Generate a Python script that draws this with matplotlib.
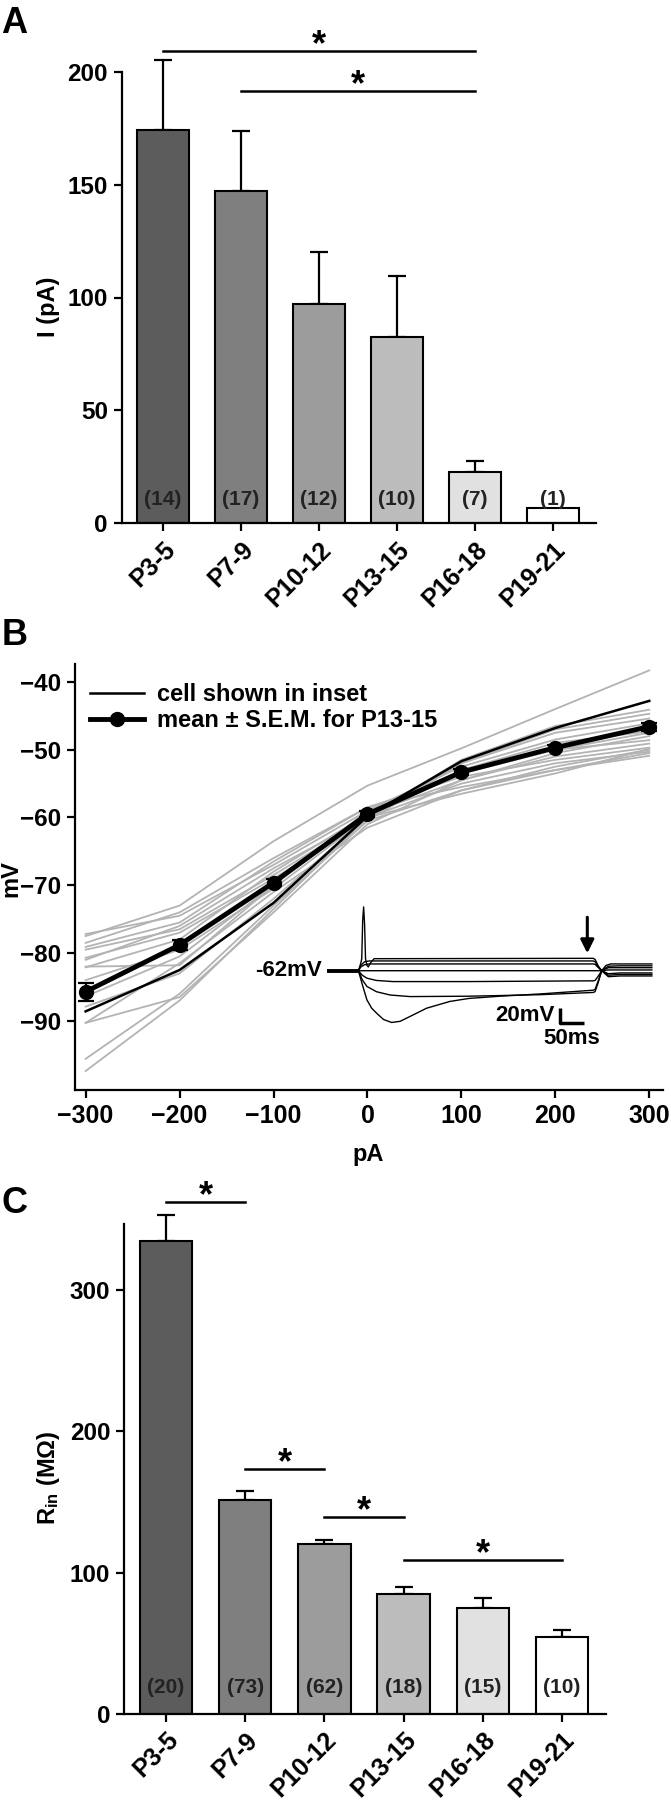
import matplotlib
matplotlib.use('Agg')
import matplotlib.pyplot as plt
from matplotlib.lines import Line2D
import numpy as np

plt.rcParams['font.family'] = ['Liberation Sans', 'DejaVu Sans']
plt.rcParams['font.weight'] = 'bold'
plt.rcParams['axes.labelweight'] = 'bold'
plt.rcParams['mathtext.fontset'] = 'custom'
plt.rcParams['mathtext.rm'] = 'Liberation Sans:bold'
plt.rcParams['mathtext.default'] = 'rm'
plt.rcParams['axes.linewidth'] = 1.6
for ax_ in ('xtick', 'ytick'):
    plt.rcParams[f'{ax_}.major.width'] = 1.6
    plt.rcParams[f'{ax_}.major.size'] = 6
    plt.rcParams[f'{ax_}.labelsize'] = 17.5
    plt.rcParams[f'{ax_}.major.pad'] = 4

# ---------------- data ----------------
ages = ['P3-5', 'P7-9', 'P10-12', 'P13-15', 'P16-18', 'P19-21']
bar_colors = ['#5c5c5c', '#7f7f7f', '#9c9c9c', '#bcbcbc', '#e1e1e1', '#ffffff']

# Panel A: current (pA)
A_mean = [174.2, 147.1, 97.1, 82.4, 22.9, 6.8]
A_sem = [31.0, 26.5, 23.2, 27.3, 4.6, 0.0]
A_n = ['(14)', '(17)', '(12)', '(10)', '(7)', '(1)']
A_sig = [(0, 4, 209.3), (1, 4, 191.5)]

# Panel B: I-V relations
B_current = [-300, -200, -100, 0, 100, 200, 300]
B_mean = [-85.7, -78.8, -69.6, -59.5, -53.3, -49.7, -46.6]
B_sem = [1.3, 0.8, 0.5, 0.4, 0.4, 0.4, 0.6]
B_cell = [-88.6, -82.5, -72.6, -59.8, -51.7, -46.8, -42.8]
B_g1 = [-77.5, -73.0, -63.5, -55.3, -49.8, -44.0, -38.3]
B_g2 = [-77.2, -74.5, -67.0, -59.0, -53.5, -50.0, -47.5]
B_g3 = [-79.1, -75.5, -66.5, -58.5, -54.0, -51.5, -49.7]
B_g4 = [-79.5, -76.5, -68.5, -60.0, -55.0, -52.0, -50.3]
B_g5 = [-80.7, -77.0, -69.0, -60.5, -56.0, -53.0, -50.9]
B_g6 = [-82.1, -78.0, -68.0, -59.5, -54.5, -51.0, -49.1]
B_g7 = [-82.0, -81.8, -70.0, -59.0, -52.5, -48.5, -46.1]
B_g8 = [-84.0, -79.5, -70.5, -60.0, -53.0, -49.0, -47.3]
B_g9 = [-86.4, -80.5, -70.0, -59.5, -53.5, -50.0, -48.6]
B_g10 = [-87.9, -83.0, -72.0, -60.0, -52.0, -47.5, -45.4]
B_g11 = [-90.3, -86.5, -74.0, -61.0, -54.5, -50.5, -48.0]
B_g12 = [-90.3, -81.5, -71.0, -61.5, -56.0, -52.5, -50.0]
B_g13 = [-95.6, -86.0, -73.0, -60.5, -52.0, -47.0, -44.7]
B_g14 = [-97.4, -87.0, -73.5, -60.0, -51.5, -46.5, -44.1]
B_g15 = [-78.5, -74.0, -66.0, -58.5, -55.5, -53.0, -50.5]
B_g16 = [-81.0, -76.0, -67.5, -60.0, -56.5, -53.5, -49.9]
B_grey = [B_g1, B_g2, B_g3, B_g4, B_g5, B_g6, B_g7, B_g8,
          B_g9, B_g10, B_g11, B_g12, B_g13, B_g14, B_g15, B_g16]

# Inset voltage traces (time ms, membrane potential mV)
inset_base_t = [0, 67]
inset_base_v = [-62, -62]
tr_sag_t = [67, 75, 85, 95, 106, 120, 137, 155, 176, 211, 260, 300, 366, 450, 563, 567, 574, 581, 590, 600, 620, 687]
tr_sag_v = [-62, -80, -101, -112, -119, -127, -131, -129.5, -123, -112, -103, -99, -96, -93, -88, -87, -75, -62, -55, -53, -53, -53]
tr_h2_t = [67, 75, 85, 105, 134, 176, 300, 450, 563, 567, 574, 581, 595, 620, 687]
tr_h2_v = [-62, -74, -83, -90, -94.4, -96.5, -96, -94, -91, -90, -77, -62, -56, -55.5, -55.5]
tr_h1_t = [67, 75, 85, 105, 140, 300, 563, 567, 574, 581, 595, 620, 687]
tr_h1_v = [-62, -68, -72, -75, -76.5, -76.5, -75.5, -75, -69, -62, -58, -58, -58]
tr_0_t = [67, 563, 581, 595, 687]
tr_0_v = [-62, -62, -62, -61, -61]
tr_d1_t = [67, 72, 80, 90, 563, 567, 574, 581, 595, 620, 687]
tr_d1_v = [-62, -57, -54, -53, -53, -53.5, -58, -62, -66, -65, -65]
tr_d2_t = [67, 72, 80, 90, 563, 567, 574, 581, 595, 620, 687]
tr_d2_v = [-62, -55, -50, -49, -49, -50, -57, -62, -68, -67, -67]
tr_d3_t = [67, 72, 74, 76, 78, 80, 82, 85, 88, 92, 100, 563, 567, 574, 581, 595, 620, 687]
tr_d3_v = [-62, -52, -46, 5, 23, 0, -46, -55, -57, -52, -46, -45.5, -47, -56, -62, -70, -69, -69]
inset_traces = [(tr_sag_t, tr_sag_v), (tr_h2_t, tr_h2_v), (tr_h1_t, tr_h1_v),
                (tr_0_t, tr_0_v), (tr_d1_t, tr_d1_v), (tr_d2_t, tr_d2_v), (tr_d3_t, tr_d3_v)]
scalebar_ms = 50
scalebar_mv = 20

# Panel C: input resistance (MOhm)
C_mean = [334.7, 151.7, 120.0, 84.8, 75.1, 54.2]
C_sem = [18.4, 6.2, 3.2, 5.2, 6.7, 5.3]
C_n = ['(20)', '(73)', '(62)', '(18)', '(15)', '(10)']
C_sig = [(0, 1, 362.7), (1, 2, 173.4), (2, 3, 139.4), (3, 5, 108.6)]

# ---------------- figure ----------------
W, H = 671, 1800
fig = plt.figure(figsize=(W / 100, H / 100), dpi=100)


def rect(x0, x1, ytop, ybot):
    return [x0 / W, 1 - ybot / H, (x1 - x0) / W, (ybot - ytop) / H]


def style(ax):
    for s in ('top', 'right'):
        ax.spines[s].set_visible(False)
    ax.tick_params(direction='out')


def unclip(container):
    _, caps, bars = container.lines
    for a in list(caps) + list(bars):
        a.set_clip_on(False)


def bar_panel(ax, means, sems, ns, sig, ylim, yticks, n_y, ylabel, ylab_xy):
    x = np.arange(len(ages))
    ax.bar(x, means, width=0.66, color=bar_colors, edgecolor='black', linewidth=1.5, zorder=2)
    for xi, m, s in zip(x, means, sems):
        if s > 0:
            c = ax.errorbar([xi], [m], yerr=[[0], [s]], fmt='none', ecolor='black',
                            elinewidth=1.6, capsize=6.5, capthick=1.6, zorder=1)
            unclip(c)
    for xi, t in zip(x, ns):
        ax.text(xi, n_y, t, ha='center', va='center', fontsize=15, color='#222222', zorder=3)
    for a, b, y in sig:
        ax.plot([a, b], [y, y], color='black', lw=1.8, clip_on=False)
        ax.annotate('*', xy=((a + b) / 2, y), xytext=(0, -3), textcoords='offset points',
                    ha='center', va='baseline', fontsize=26, annotation_clip=False)
    ax.set_xlim(-0.53, 5.55)
    ax.set_ylim(*ylim)
    ax.set_yticks(yticks)
    ax.set_xticks(x)
    ax.set_xticklabels(ages, rotation=45, ha='right', va='top', rotation_mode='anchor',
                       fontsize=18)
    ax.set_ylabel(ylabel, fontsize=17)
    ax.yaxis.set_label_coords(*ylab_xy)
    style(ax)


# Panel A
axA = fig.add_axes(rect(121.7, 596, 71.7, 523.3))
bar_panel(axA, A_mean, A_sem, A_n, A_sig, (0, 200), [0, 50, 100, 150, 200], 10.5,
          'I (pA)', (-0.130, 0.48))

# Panel B
axB = fig.add_axes(rect(75, 663, 663.6, 1090))
for g in B_grey:
    axB.plot(B_current, g, color='#b3b3b3', lw=1.3, zorder=1)
axB.plot(B_current, B_cell, color='black', lw=1.8, zorder=2)
axB.errorbar(B_current, B_mean, yerr=B_sem, color='black', lw=3.5, marker='o', ms=10,
             elinewidth=1.6, capsize=6, capthick=1.6, zorder=3)
axB.set_xlim(-311.3, 314.6)
axB.set_ylim(-100.2, -37.3)
axB.set_xticks(B_current)
axB.set_yticks([-90, -80, -70, -60, -50, -40])
axB.tick_params(axis='x', labelsize=18)
axB.set_ylabel('mV', fontsize=17)
axB.yaxis.set_label_coords(-0.09, 0.496)
axB.set_xlabel('pA', fontsize=17)
axB.xaxis.set_label_coords(0.498, -0.125)
style(axB)
handles = [Line2D([], [], color='black', lw=1.8),
           Line2D([], [], color='black', lw=3.5, marker='o', ms=10)]
axB.legend(handles, ['cell shown in inset', 'mean ± S.E.M. for P13-15'], loc='upper left',
           bbox_to_anchor=(0.025, 0.955), borderaxespad=0, borderpad=0, frameon=False,
           fontsize=17, handlelength=2.3, handletextpad=0.55, labelspacing=0.15)

# Inset
axI = fig.add_axes(rect(250, 660, 895, 1050))
axI.set_facecolor('none')
axI.axis('off')
axI.plot(inset_base_t, inset_base_v, color='black', lw=2.8, solid_capstyle='butt')
for t, v in inset_traces:
    axI.plot(t, v, color='black', lw=1.0)
axI.set_xlim(-162.1, 704.2)
axI.set_ylim(-167.7, 38.9)
axI.text(-10, inset_base_v[0], '-62mV', ha='right', va='center', fontsize=16)
sb_t0, sb_v0 = 493, -131.3
axI.plot([sb_t0, sb_t0, sb_t0 + scalebar_ms], [sb_v0 + scalebar_mv, sb_v0, sb_v0],
         color='black', lw=2.5, solid_capstyle='butt')
axI.text(sb_t0 - 11, sb_v0 + 9, f'{scalebar_mv}mV', ha='right', va='center', fontsize=16)
axI.text(sb_t0 + 25, sb_v0 - 21, f'{scalebar_ms}ms', ha='center', va='center', fontsize=16)
axI.annotate('', xy=(550.6, -38.8), xytext=(550.6, 9.2),
             arrowprops=dict(arrowstyle='-|>', lw=2.2, color='black', mutation_scale=20,
                             shrinkA=0, shrinkB=0))

# Panel C
axC = fig.add_axes(rect(124.1, 605.5, 1223.8, 1713.8))
bar_panel(axC, C_mean, C_sem, C_n, C_sig, (0, 347), [0, 100, 200, 300], 18.5,
          r'R$_{\mathregular{in}}$ (MΩ)', (-0.129, 0.482))

# panel letters
fig.text(0.002, 1 - 6 / H, 'A', fontsize=26, va='top', ha='left')
fig.text(0.002, 1 - 618 / H, 'B', fontsize=26, va='top', ha='left')
fig.text(0.002, 1 - 1186 / H, 'C', fontsize=26, va='top', ha='left')

fig.savefig('out.png', dpi=100)
